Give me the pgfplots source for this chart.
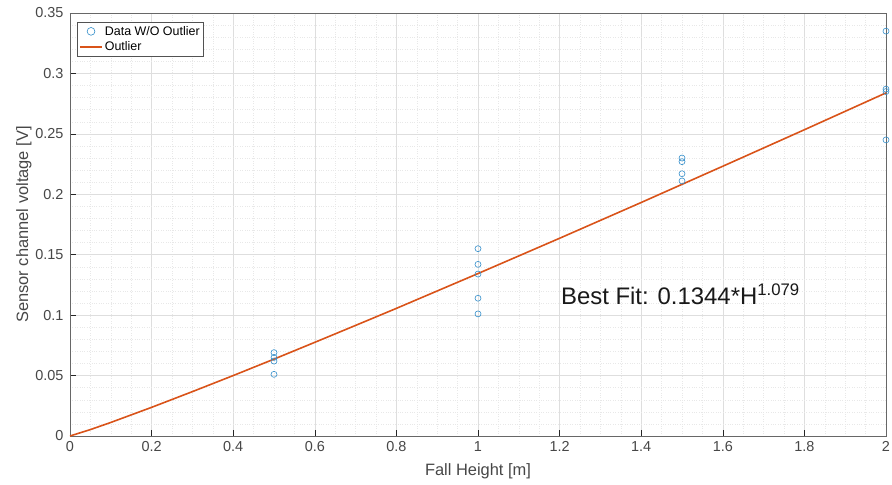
\documentclass[border=0pt]{standalone}
\usepackage{fontspec}
\setmainfont{Liberation Sans}
\usepackage{pgfplots}
\pgfplotsset{compat=1.18}
\definecolor{mblue}{rgb}{0,0.447,0.741}
\definecolor{morange}{rgb}{0.85,0.325,0.098}
\definecolor{axgray}{rgb}{0.15,0.15,0.15}
\begin{document}
\begin{tikzpicture}[x=1bp,y=1bp]
\begin{axis}[
  name=ax,
  scale only axis,
  width=816bp, height=423bp,
  xmin=0, xmax=2, ymin=0, ymax=0.35,
  xtick={0,0.2,...,2.01},
  ytick={0,0.05,...,0.351},
  xticklabels={0,0.2,0.4,0.6,0.8,1,1.2,1.4,1.6,1.8,2},
  yticklabels={0,0.05,0.1,0.15,0.2,0.25,0.3,0.35},
  minor x tick num=3,
  minor y tick num=4,
  grid=both,
  major grid style={line width=0.5pt, black!13},
  minor grid style={line width=0.4pt, black!9, dotted},
  axis line style={axgray!70, line width=0.6pt},
  tick style={axgray, line width=0.6pt},
  major tick length=6bp,
  minor tick length=0pt,
  tick align=inside,
  xtick pos=bottom, ytick pos=left,
  ticklabel style={font=\fontsize{14.5}{15}\selectfont, text=axgray!85},
  xticklabel style={yshift=-2bp},
  yticklabel style={xshift=-3bp},
  xlabel={Fall Height [m]},
  ylabel={Sensor channel voltage [V]},
  label style={font=\fontsize{16.5}{18}\selectfont, text=axgray!85},
  xlabel style={at={(axis description cs:0.5,0)}, anchor=center, yshift=-35bp},
  ylabel style={at={(axis description cs:0,0.5)}, anchor=center, yshift=46bp},
  legend style={at={(0.0085,0.979)}, anchor=north west, font=\fontsize{12.5}{13}\selectfont,
    draw=axgray!80, line width=0.5pt, inner sep=2pt, row sep=1pt, cells={anchor=west}},
  legend cell align=left,
  legend image post style={scale=1.3},
  clip=false,
]
\addplot[only marks, mark=o, mark size=3bp, mblue!80, mark options={line width=0.6pt}]
  coordinates {
  (0.5,0.069) (0.5,0.065) (0.5,0.062) (0.5,0.051)
  (1,0.155) (1,0.142) (1,0.134) (1,0.114) (1,0.101)
  (1.5,0.230) (1.5,0.227) (1.5,0.217) (1.5,0.211)
  (2,0.335) (2,0.287) (2,0.285) (2,0.245)
  };
\addlegendentry{Data W/O Outlier}
\addplot[morange, line width=1.6pt] coordinates {
  (0,0) (0.05,0.0053) (0.1,0.0112) (0.2,0.0237) (0.3,0.0367) (0.4,0.0500)
  (0.5,0.0636) (0.6,0.0775) (0.7,0.0915) (0.8,0.1056) (0.9,0.1200)
  (1,0.1344) (1.2,0.1636) (1.4,0.1932) (1.6,0.2232) (1.8,0.2534) (2,0.2839)
  };
\addlegendentry{Outlier}
\node[anchor=base west, font=\fontsize{24}{26}\selectfont, text=black!90]
  at (axis cs:1.195,0.109) {Best Fit: 0.1344*H\textsuperscript{1.079}};
\end{axis}
\pgfresetboundingbox
\path ([shift={(-70bp,-49bp)}]ax.south west) rectangle ([shift={(6bp,13bp)}]ax.north east);
\end{tikzpicture}
\end{document}
